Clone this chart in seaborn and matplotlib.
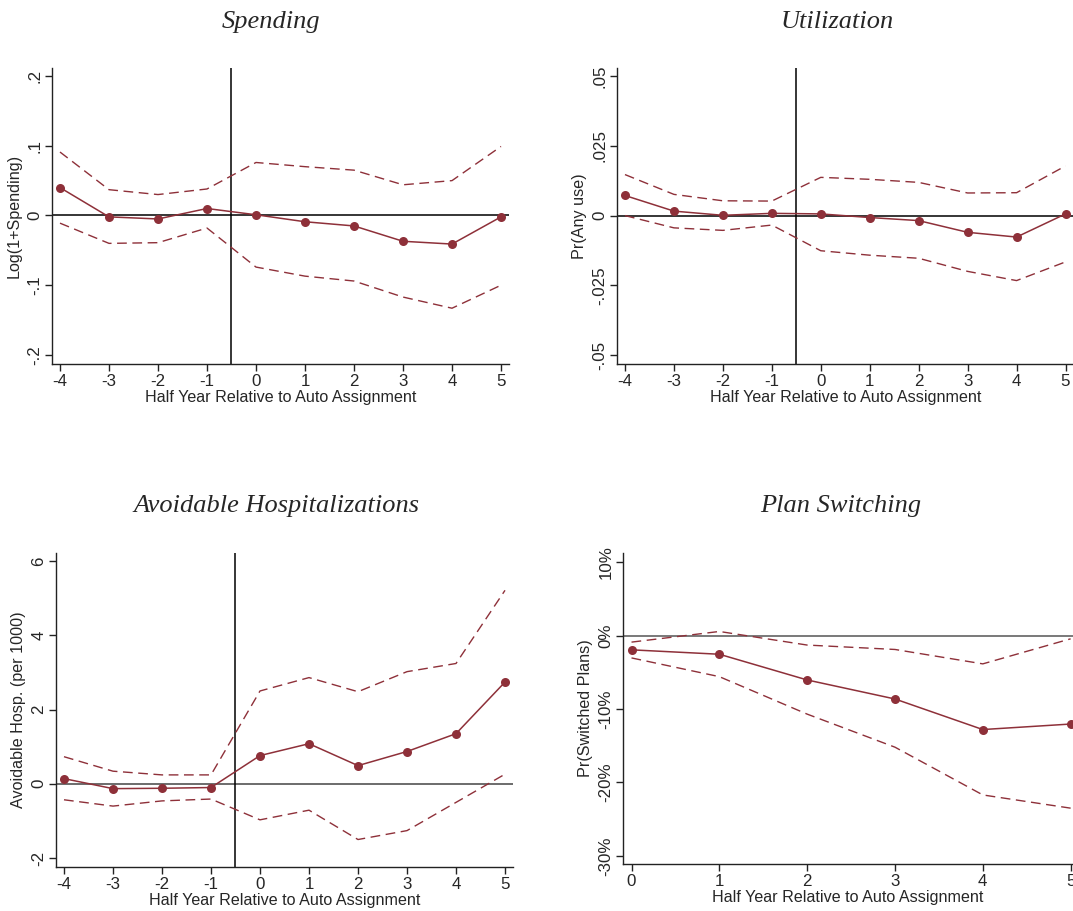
import numpy as np
import pandas as pd
import matplotlib
matplotlib.use("Agg")
import matplotlib.pyplot as plt
import seaborn as sns

sns.set_theme(style="white")
plt.rcParams["font.family"] = ["Liberation Sans", "DejaVu Sans"]

# Event time (half years relative to auto assignment)
periods = [-4, -3, -2, -1, 0, 1, 2, 3, 4, 5]
periods_switch = [0, 1, 2, 3, 4, 5]

# Spending: log(1+spending)
spend_est = [0.040, -0.002, -0.005, 0.010, 0.001, -0.009, -0.015, -0.037, -0.041, -0.002]
spend_hi = [0.091, 0.037, 0.030, 0.038, 0.076, 0.070, 0.065, 0.044, 0.050, 0.099]
spend_lo = [-0.011, -0.040, -0.039, -0.018, -0.074, -0.087, -0.094, -0.117, -0.133, -0.100]

# Utilization: Pr(any use)
util_est = [0.0072, 0.0016, 0.0001, 0.0008, 0.0006, -0.0007, -0.0018, -0.0060, -0.0077, 0.0006]
util_hi = [0.0147, 0.0076, 0.0053, 0.0052, 0.0137, 0.0130, 0.0119, 0.0081, 0.0082, 0.0178]
util_lo = [0.0000, -0.0044, -0.0053, -0.0034, -0.0126, -0.0142, -0.0153, -0.0200, -0.0233, -0.0166]

# Avoidable hospitalizations per 1000
hosp_est = [0.14, -0.13, -0.12, -0.10, 0.76, 1.08, 0.49, 0.87, 1.35, 2.74]
hosp_hi = [0.73, 0.34, 0.24, 0.24, 2.50, 2.86, 2.48, 3.02, 3.24, 5.21]
hosp_lo = [-0.43, -0.60, -0.46, -0.41, -0.97, -0.71, -1.50, -1.26, -0.50, 0.26]

# Plan switching: Pr(switched plans)
switch_est = [-0.0195, -0.0255, -0.0605, -0.0864, -0.128, -0.1205]
switch_hi = [-0.009, 0.0055, -0.013, -0.019, -0.0386, -0.0045]
switch_lo = [-0.0305, -0.056, -0.107, -0.152, -0.217, -0.235]

RED = "#8E3039"
AX_COLOR = "#222222"
TICK_FS = 12.2
LABEL_FS = 11.6

fig = plt.figure(figsize=(10.73, 9.11), dpi=100)
W, H = 1073.0, 911.0


def add_axes(left, top, right, bottom):
    return fig.add_axes([left / W, 1 - bottom / H, (right - left) / W, (bottom - top) / H])


def event_panel(ax, x, est, hi, lo, xlim, ylim, yticks, ytick_labels, ylabel, vline=True, hcolor="black"):
    df = pd.DataFrame({"t": x, "est": est, "hi": hi, "lo": lo})
    ax.axhline(0, color=hcolor, lw=1.1, zorder=1)
    if vline:
        ax.axvline(-0.5, color="black", lw=1.1, zorder=1)
    for col in ("hi", "lo"):
        sns.lineplot(data=df, x="t", y=col, ax=ax, color=RED, lw=1.0,
                     linestyle=(0, (7, 4)), zorder=2)
    sns.lineplot(data=df, x="t", y="est", ax=ax, color=RED, lw=1.1, marker="o",
                 markersize=6.5, markeredgewidth=0, zorder=3)
    ax.set_xlim(*xlim)
    ax.set_ylim(*ylim)
    ax.set_xticks(x)
    ax.set_xticklabels([str(v) for v in x], fontsize=TICK_FS)
    ax.set_yticks(yticks)
    ax.set_yticklabels(ytick_labels, fontsize=TICK_FS, rotation=90, va="center")
    ax.set_xlabel("Half Year Relative to Auto Assignment", fontsize=LABEL_FS, labelpad=1)
    ax.set_ylabel(ylabel, fontsize=LABEL_FS, labelpad=4)
    for s in ("top", "right"):
        ax.spines[s].set_visible(False)
    for s in ("left", "bottom"):
        ax.spines[s].set_color(AX_COLOR)
        ax.spines[s].set_linewidth(1.0)
    ax.tick_params(axis="both", which="major", direction="out", length=5, width=1.0,
                   color=AX_COLOR, pad=2, left=True, bottom=True)
    ax.set_facecolor("white")


ax1 = add_axes(52, 68, 509, 364)
event_panel(ax1, periods, spend_est, spend_hi, spend_lo,
            (-4.163, 5.163), (-0.213, 0.2115),
            [-0.2, -0.1, 0, 0.1, 0.2], ["-.2", "-.1", "0", ".1", ".2"],
            "Log(1+Spending)")

ax2 = add_axes(617, 68, 1073.5, 364)
event_panel(ax2, periods, util_est, util_hi, util_lo,
            (-4.163, 5.163), (-0.0532, 0.0529),
            [-0.05, -0.025, 0, 0.025, 0.05], ["-.05", "-.025", "0", ".025", ".05"],
            "Pr(Any use)")

ax3 = add_axes(56, 553, 513, 867)
event_panel(ax3, periods, hosp_est, hosp_hi, hosp_lo,
            (-4.163, 5.163), (-2.24, 6.215),
            [-2, 0, 2, 4, 6], ["-2", "0", "2", "4", "6"],
            "Avoidable Hosp. (per 1000)", hcolor="#444444")

ax4 = add_axes(623, 553, 1073, 864)
event_panel(ax4, periods_switch, switch_est, switch_hi, switch_lo,
            (-0.097, 5.027), (-0.311, 0.1123),
            [-0.3, -0.2, -0.1, 0, 0.1], ["-30%", "-20%", "-10%", "0%", "10%"],
            "Pr(Switched Plans)", vline=False, hcolor="#555555")

title_kw = dict(fontsize=19, style="italic", family=["Liberation Serif", "DejaVu Serif"],
                ha="center", va="center")
fig.text(271 / W, 1 - 22 / H, "Spending", **title_kw)
fig.text(837 / W, 1 - 22 / H, "Utilization", **title_kw)
fig.text(276 / W, 1 - 506 / H, "Avoidable Hospitalizations", **title_kw)
fig.text(841 / W, 1 - 506 / H, "Plan Switching", **title_kw)

fig.savefig("out.png", dpi=100, facecolor="white")
